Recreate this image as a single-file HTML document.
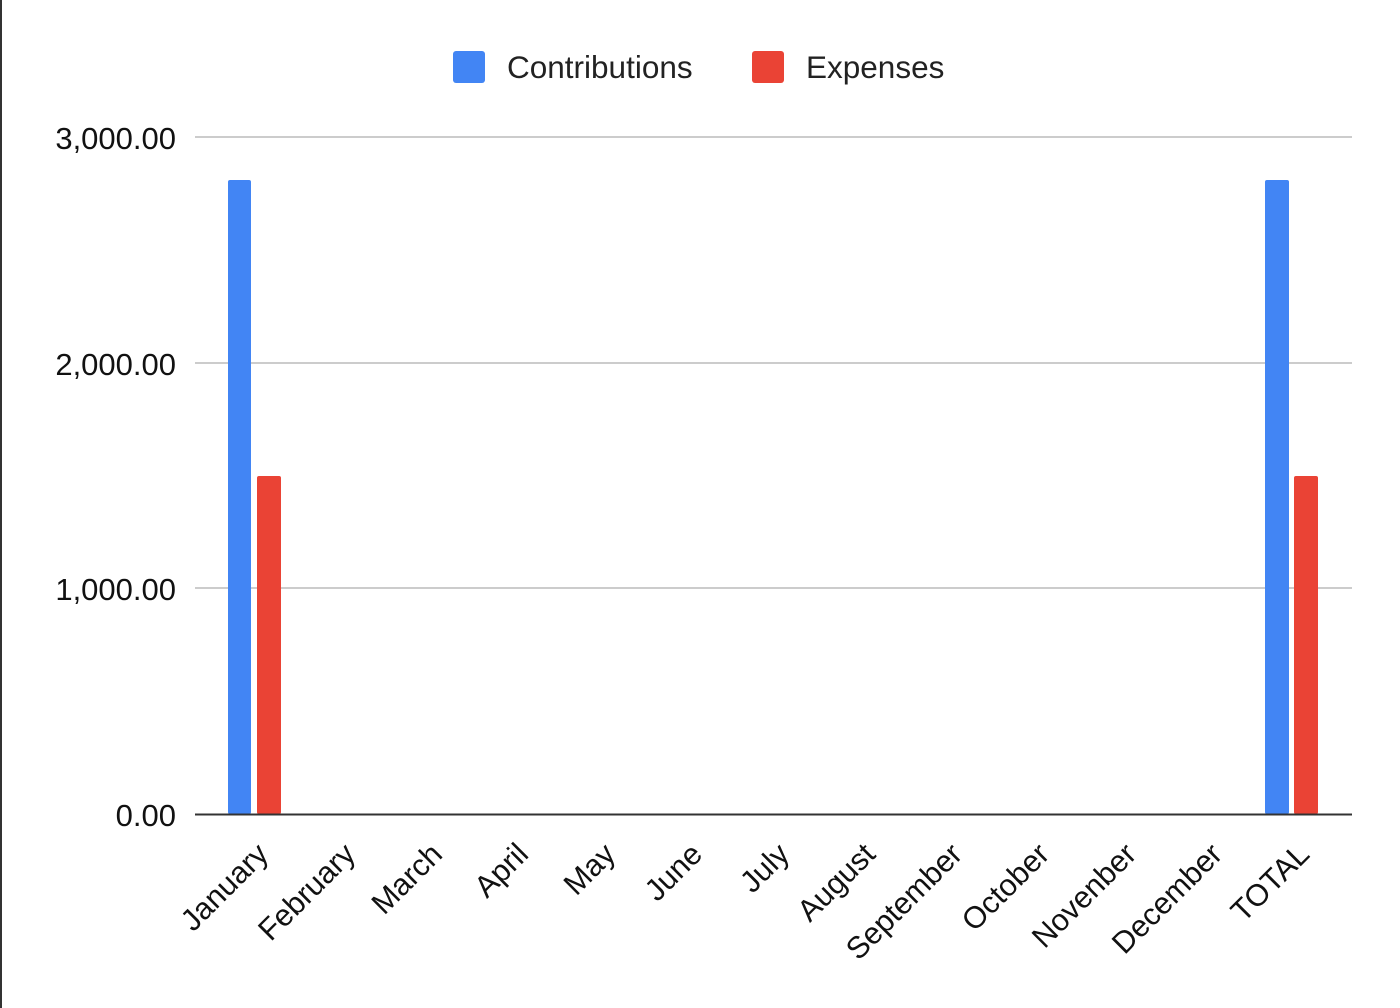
<!DOCTYPE html>
<html><head><style>
html,body{margin:0;padding:0;background:#fff;}
svg{display:block;font-family:"Liberation Sans",Arial,sans-serif;}
</style></head><body>
<svg width="1400" height="1008" viewBox="0 0 1400 1008">
<rect x="0" y="0" width="1400" height="1008" fill="#fff"/>
<line x1="1" y1="0" x2="1" y2="1008" stroke="#333" stroke-width="2"/>
<rect x="453" y="51" width="32" height="32" rx="3" fill="#4285f4"/>
<text x="507" y="78" font-size="31.5" fill="#222">Contributions</text>
<rect x="752" y="51" width="32" height="32" rx="3" fill="#ea4335"/>
<text x="806" y="78" font-size="31.5" fill="#222">Expenses</text>
<g stroke="#ccc" stroke-width="2">
<line x1="195" y1="137" x2="1352" y2="137"/>
<line x1="195" y1="363" x2="1352" y2="363"/>
<line x1="195" y1="588" x2="1352" y2="588"/>
</g>
<g font-size="31" fill="#111" text-anchor="end">
<text x="176" y="149">3,000.00</text>
<text x="176" y="375">2,000.00</text>
<text x="176" y="600">1,000.00</text>
<text x="176" y="826">0.00</text>
</g>
<rect x="228" y="180" width="23" height="634" rx="2" fill="#4285f4"/>
<rect x="257" y="476" width="24" height="338" rx="2" fill="#ea4335"/>
<rect x="1265" y="180" width="24" height="634" rx="2" fill="#4285f4"/>
<rect x="1294" y="476" width="24" height="338" rx="2" fill="#ea4335"/>
<line x1="195" y1="814.5" x2="1352" y2="814.5" stroke="#333" stroke-width="2"/>
<g font-size="30.5" fill="#111" text-anchor="end">
<text transform="translate(270,856) rotate(-45)">January</text>
<text transform="translate(357,856) rotate(-45)">February</text>
<text transform="translate(444,856) rotate(-45)">March</text>
<text transform="translate(530,856) rotate(-45)">April</text>
<text transform="translate(617,856) rotate(-45)">May</text>
<text transform="translate(704,856) rotate(-45)">June</text>
<text transform="translate(791,856) rotate(-45)">July</text>
<text transform="translate(877,856) rotate(-45)">August</text>
<text transform="translate(964,856) rotate(-45)">September</text>
<text transform="translate(1051,856) rotate(-45)">October</text>
<text transform="translate(1138,856) rotate(-45)">Novenber</text>
<text transform="translate(1224,856) rotate(-45)">December</text>
<text transform="translate(1311,856) rotate(-45)">TOTAL</text>
</g>
</svg>
</body></html>
